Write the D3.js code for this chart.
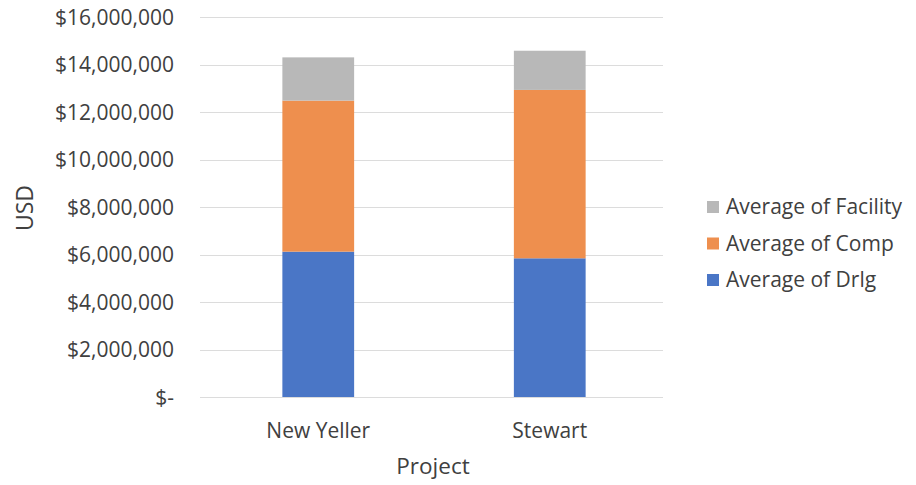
<!DOCTYPE html>
<html><head><meta charset="utf-8">
<script src="https://cdn.jsdelivr.net/npm/d3@7"></script>
<style>
body{margin:0;background:#fff;}
text{font-family:"Open Sans",sans-serif;fill:#404040;}
</style></head>
<body><svg id="c" width="916" height="485"></svg>
<script>
const categories = ["New Yeller", "Stewart"];
const seriesNames = ["Average of Drlg", "Average of Comp", "Average of Facility"];
const drlg = [6120000, 5840000];
const comp = [6360000, 7090000];
const facility = [1820000, 1650000];
const yTicks = [0, 2000000, 4000000, 6000000, 8000000, 10000000, 12000000, 14000000, 16000000];
const colors = ["#4a76c6", "#ee8f4e", "#b8b8b8"];

const svg = d3.select("#c");
const m = {left: 200, right: 253, top: 17, bottom: 88};
const W = 916, H = 485;
const x = d3.scaleBand().domain(categories).range([m.left + 2.5, W - m.right + 2.5]).paddingInner(0.69).paddingOuter(0.345);
const y = d3.scaleLinear().domain([0, 16000000]).range([H - m.bottom, m.top]);

const rows = categories.map((c, i) => ({cat: c, "Average of Drlg": drlg[i], "Average of Comp": comp[i], "Average of Facility": facility[i]}));
const stack = d3.stack().keys(seriesNames)(rows);

// gridlines
svg.append("g").selectAll("line").data(yTicks).join("line")
  .attr("x1", m.left).attr("x2", W - m.right)
  .attr("y1", d => Math.round(y(d)) + 0.5).attr("y2", d => Math.round(y(d)) + 0.5)
  .attr("stroke", "#dcdcdc").attr("stroke-width", 1);

// y axis labels
const fmt = d => d === 0 ? "$-" : "$" + d3.format(",")(d);
const yAxis = d3.axisLeft(y).tickValues(yTicks).tickFormat(fmt).tickSize(0).tickPadding(0);
const ga = svg.append("g").attr("transform", `translate(${174},0)`).call(yAxis);
ga.select(".domain").remove();
ga.selectAll("text").attr("font-size", 21).attr("font-family", "Open Sans").attr("fill", "#404040").attr("dy", "0.35em");

// bars
svg.append("g").selectAll("g").data(stack).join("g")
  .attr("fill", (d, i) => colors[i])
  .selectAll("rect").data(d => d).join("rect")
  .attr("x", d => x(d.data.cat))
  .attr("width", x.bandwidth())
  .attr("y", d => y(d[1]))
  .attr("height", d => y(d[0]) - y(d[1]));

// x axis labels
const xAxis = d3.axisBottom(x).tickSize(0).tickPadding(0);
const gx = svg.append("g").attr("transform", `translate(0,${H - m.bottom})`).call(xAxis);
gx.select(".domain").remove();
gx.selectAll("text").attr("font-size", 21).attr("font-family", "Open Sans").attr("fill", "#404040").attr("y", 41).attr("dy", 0);

// axis titles
svg.append("text").attr("x", 433).attr("y", 474).attr("text-anchor", "middle").attr("font-size", 22.5).text("Project");
svg.append("text").attr("transform", "translate(33,208) rotate(-90)").attr("text-anchor", "middle").attr("font-size", 23).text("USD");

// legend (reverse order)
const legendItems = seriesNames.map((n, i) => ({n, c: colors[i]})).reverse();
const lg = svg.append("g").selectAll("g").data(legendItems).join("g")
  .attr("transform", (d, i) => `translate(707,${207 + i * 36.5})`);
lg.append("rect").attr("x", 0).attr("y", -6).attr("width", 12).attr("height", 12).attr("fill", d => d.c);
lg.append("text").attr("x", 19).attr("y", 0).attr("dy", "0.35em").attr("font-size", 21).text(d => d.n);
</script></body></html>
